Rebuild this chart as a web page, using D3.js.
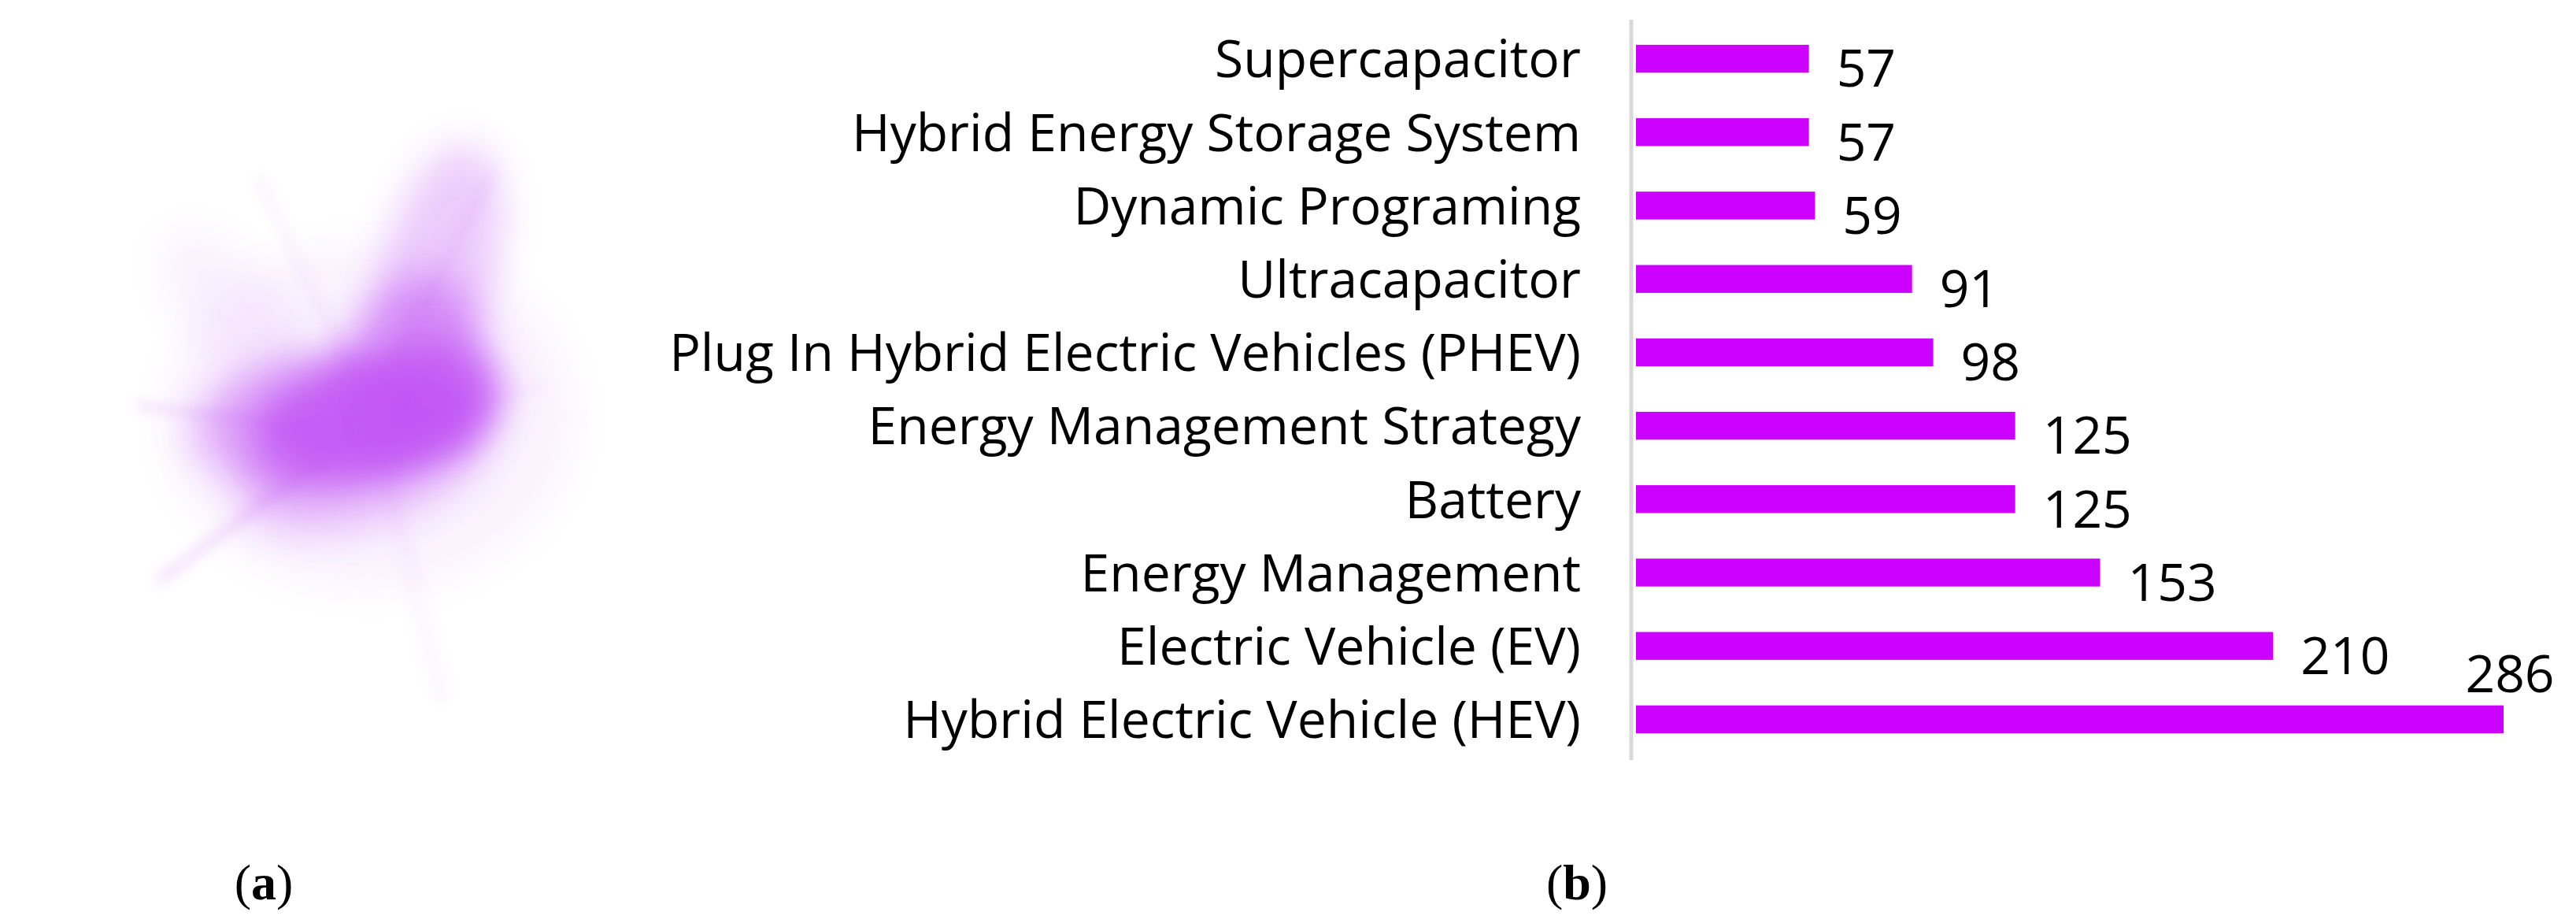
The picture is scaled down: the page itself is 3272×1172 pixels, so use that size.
<!DOCTYPE html>
<html><head><meta charset="utf-8">
<script src="https://cdn.jsdelivr.net/npm/d3@7"></script>
<style>body{margin:0;background:#fff}</style></head>
<body><svg id="c" width="3272" height="1172"></svg>
<script>
const categories = ["Supercapacitor","Hybrid Energy Storage System","Dynamic Programing","Ultracapacitor","Plug In Hybrid Electric Vehicles (PHEV) ","Energy Management Strategy","Battery","Energy Management","Electric Vehicle (EV) ","Hybrid Electric Vehicle (HEV)"];
const values = [57,57,59,91,98,125,125,153,210,286];
// network cloud blobs for panel (a): [cx, cy, rx, ry, rotation, opacity]
const blobs = [
  [470,530,150,75,-10,0.85],[520,470,90,120,20,0.5],[560,330,70,150,15,0.3],
  [400,540,140,90,0,0.4],[330,560,100,60,10,0.18],[460,600,160,70,-15,0.3],
  [560,500,80,70,0,0.6],[300,400,60,130,-40,0.08],[470,530,260,220,0,0.07]
];
// faint rays: [x1,y1,x2,y2,width,opacity]
const rays = [
  [440,560,205,735,14,0.18],[400,545,175,515,6,0.3],[470,520,625,220,12,0.1],
  [470,520,330,230,14,0.07],[480,560,560,880,24,0.04],[470,540,690,490,10,0.07]
];
const svg = d3.select("#c");
const defs = svg.append("defs");
defs.append("filter").attr("id","bl").attr("x","-50%").attr("y","-50%").attr("width","200%").attr("height","200%")
  .append("feGaussianBlur").attr("stdDeviation",24);
defs.append("filter").attr("id","bl2").attr("x","-50%").attr("y","-50%").attr("width","200%").attr("height","200%")
  .append("feGaussianBlur").attr("stdDeviation",8);
const cloud = svg.append("g");
cloud.selectAll("line").data(rays).join("line")
  .attr("x1",d=>d[0]).attr("y1",d=>d[1]).attr("x2",d=>d[2]).attr("y2",d=>d[3])
  .attr("stroke","#c35cf0").attr("stroke-width",d=>d[4]).attr("opacity",d=>d[5])
  .attr("stroke-linecap","round").attr("filter","url(#bl2)");
cloud.selectAll("ellipse").data(blobs).join("ellipse")
  .attr("cx",d=>d[0]).attr("cy",d=>d[1]).attr("rx",d=>d[2]).attr("ry",d=>d[3])
  .attr("transform",d=>`rotate(${d[4]},${d[0]},${d[1]})`)
  .attr("fill","#c255f5").attr("opacity",d=>d[5]).attr("filter","url(#bl)");

const x0 = 2078, x1 = 3180;
const x = d3.scaleLinear().domain([0,286]).range([x0,x1]);
const y = d3.scaleBand().domain(categories).range([28,960]).paddingInner(0.62).paddingOuter(0.31);
svg.append("line").attr("x1",2072).attr("x2",2072).attr("y1",25).attr("y2",965)
  .attr("stroke","#d9d9d9").attr("stroke-width",5);
svg.selectAll("rect.b").data(values).join("rect").attr("class","b")
  .attr("x",x0).attr("y",(d,i)=>y(categories[i])).attr("width",d=>x(d)-x0)
  .attr("height",y.bandwidth()).attr("fill","#cc00ff");
const font = "'Open Sans', sans-serif";
svg.selectAll("text.c").data(categories).join("text").attr("class","c")
  .attr("x",2008).attr("y",d=>y(d)+y.bandwidth()/2).attr("dy","0.36em")
  .attr("text-anchor","end").attr("font-family",font).attr("font-size",66).text(d=>d);
svg.selectAll("text.v").data(values).join("text").attr("class","v")
  .attr("x",(d,i)=>i===9?x(d)+8:x(d)+35)
  .attr("y",(d,i)=>i===9?y(categories[i])-40:y(categories[i])+y.bandwidth()/2+12)
  .attr("dy","0.36em").attr("text-anchor",(d,i)=>i===9?"middle":"start")
  .attr("font-family",font).attr("font-size",66).text(d=>d);
const cap = [["a",335],["b",2003]];
cap.forEach(([l,cx])=>{
  const t = svg.append("text").attr("x",cx).attr("y",1142).attr("text-anchor","middle")
    .attr("font-family","'Liberation Serif', serif").attr("font-size",64);
  t.append("tspan").text("(");
  t.append("tspan").attr("font-weight","bold").text(l);
  t.append("tspan").text(")");
});
</script></body></html>
